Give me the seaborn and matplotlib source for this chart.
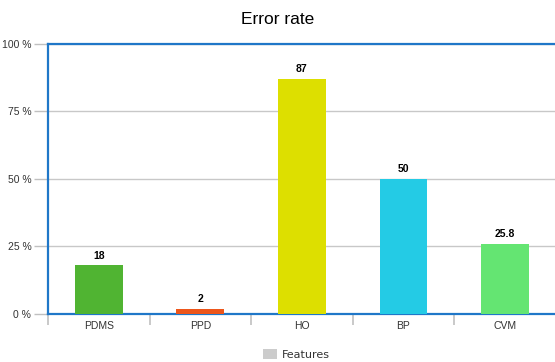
import pandas as pd
import matplotlib.pyplot as plt
import seaborn as sns
from matplotlib.patches import Patch

categories = ['PDMS', 'PPD', 'HO', 'BP', 'CVM']
error_rate = [18, 2, 87, 50, 25.8]
label_text = ['18', '2', '87', '50', '25.8']
colors = ['#50B432', '#ED561B', '#DDDF00', '#24CBE5', '#64E572']
y_ticks = [0, 25, 50, 75, 100]
y_tick_labels = ['0 %', '25 %', '50 %', '75 %', '100 %']

df = pd.DataFrame({'Method': categories, 'Error': error_rate})

sns.set_style('white')
plt.rcParams['font.family'] = ['Liberation Sans', 'DejaVu Sans']

fig = plt.figure(figsize=(5.55, 3.62), dpi=100)
ax = fig.add_axes([0.0865, 0.1326, 0.915, 0.746])

sns.barplot(data=df, x='Method', y='Error', hue='Method', palette=colors,
            saturation=1, width=0.47, linewidth=0, legend=False, ax=ax,
            zorder=3)

# value labels
for i, (v, t) in enumerate(zip(error_rate, label_text)):
    ax.text(i, v + 1.8, t, ha='center', va='bottom', fontsize=7.5,
            fontweight='bold', color='#000000')

ax.set_xlim(-0.5, 4.5)
ax.set_ylim(0, 100)
ax.set_yticks(y_ticks)
ax.set_yticklabels(y_tick_labels, fontsize=7.5, color='#333333')
ax.set_xticks(range(len(categories)))
ax.set_xticklabels(categories, fontsize=7.5, color='#333333')
ax.tick_params(axis='x', which='major', length=0, pad=5)
ax.tick_params(axis='y', left=True, length=10, color='#c0c0c0', width=1,
               pad=2)

# category boundary ticks below the axis
ax.set_xticks([-0.5, 0.5, 1.5, 2.5, 3.5, 4.5], minor=True)
ax.tick_params(axis='x', which='minor', bottom=True, length=8,
               color='#c0c0c0', width=1.2)

ax.yaxis.grid(True, color='#c8c8c8', linewidth=1, zorder=0)
ax.set_axisbelow(True)
ax.set_xlabel('')
ax.set_ylabel('')

for side in ['left', 'top', 'bottom']:
    ax.spines[side].set_visible(True)
    ax.spines[side].set_color('#1f77c8')
    ax.spines[side].set_linewidth(1.6)
ax.spines['right'].set_visible(False)

fig.suptitle('Error rate', y=0.968, fontsize=12.5, color='#000000')

handles = [Patch(facecolor='#cccccc', edgecolor='none', label='Features')]
fig.legend(handles=handles, loc='center', bbox_to_anchor=(0.535, 0.02),
           frameon=False, handlelength=1.2, handleheight=1.0,
           handletextpad=0.5, labelcolor='#333333',
           prop={'family': 'DejaVu Sans', 'size': 8})

fig.savefig('out.png', dpi=100)
